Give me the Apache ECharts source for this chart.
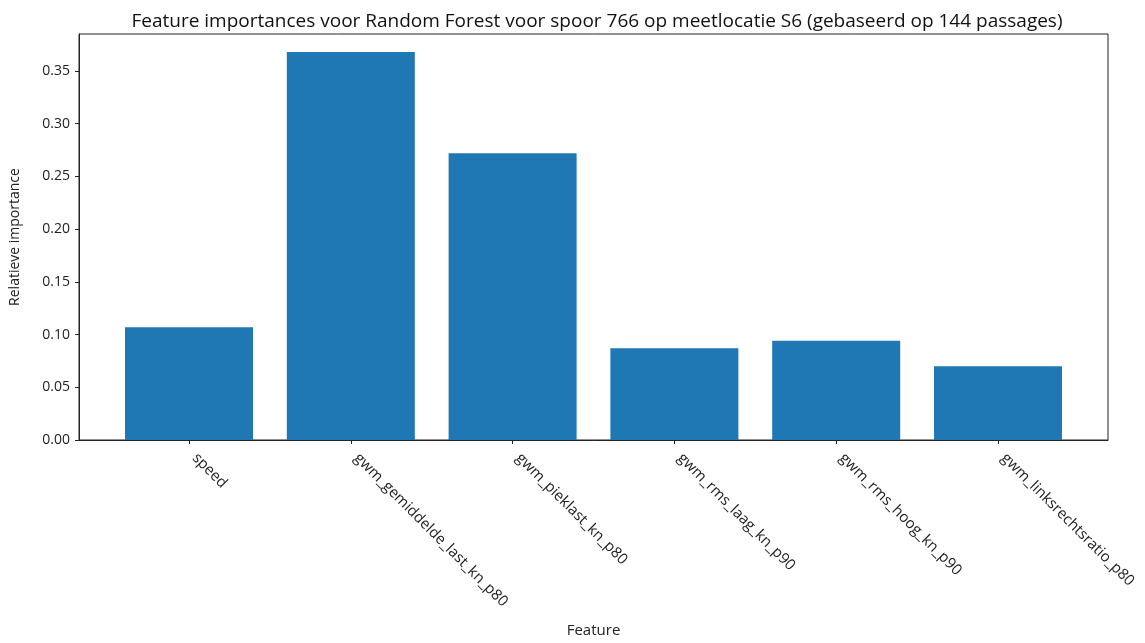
<!DOCTYPE html>
<html><head><meta charset="utf-8">
<script src="https://cdn.jsdelivr.net/npm/echarts@6/dist/echarts.min.js"></script>
<style>html,body{margin:0;padding:0;background:#fff}#c{width:1145px;height:643px}</style>
</head><body><div id="c"></div>
<script>
const categories = ["speed", "gwm_gemiddelde_last_kn_p80", "gwm_pieklast_kn_p80", "gwm_rms_laag_kn_p90", "gwm_rms_hoog_kn_p90", "gwm_linksrechtsratio_p80"];
const importances = [0.107, 0.368, 0.272, 0.087, 0.094, 0.070];
const yTicks = [0, 0.05, 0.10, 0.15, 0.20, 0.25, 0.30, 0.35];
const titleText = "Feature importances voor Random Forest voor spoor 766 op meetlocatie S6 (gebaseerd op 144 passages)";

const font = "Open Sans";
const chart = echarts.init(document.getElementById('c'), null, {renderer: 'canvas'});
chart.setOption({
  animation: false,
  backgroundColor: '#fff',
  title: {text: titleText, left: 592, top: 7, textAlign: 'center',
    textStyle: {fontFamily: font, fontSize: 19, fontWeight: 'normal', color: '#111'}},
  grid: {left: 78, top: 34, width: 1030, height: 406, show: true, borderColor: '#222', borderWidth: 1, backgroundColor: 'transparent'},
  xAxis: {
    type: 'value', min: -0.68, max: 5.68,
    name: 'Feature', nameLocation: 'middle', nameGap: 183,
    nameTextStyle: {fontFamily: font, fontSize: 15, color: '#222'},
    splitLine: {show: false},
    axisLine: {show: true, onZero: false, lineStyle: {color: '#222'}},
    axisTick: {show: true, customValues: categories.map((c, i) => i), length: 4, lineStyle: {color: '#222'}},
    axisLabel: {customValues: categories.map((c, i) => i), rotate: -45, margin: 10, padding: [0, 0, 0, 8],
      formatter: v => categories[Math.round(v)] || '',
      fontFamily: font, fontSize: 15, color: '#222'}
  },
  yAxis: {
    type: 'value', min: 0, max: 0.385, interval: 0.05,
    name: 'Relatieve importance', nameLocation: 'middle', nameGap: 57,
    nameTextStyle: {fontFamily: font, fontSize: 14, color: '#222'},
    splitLine: {show: false},
    axisLine: {show: true, onZero: false, lineStyle: {color: '#222'}},
    axisTick: {show: true, length: 4, lineStyle: {color: '#222'}},
    axisLabel: {fontFamily: font, fontSize: 14, color: '#222', margin: 9, showMaxLabel: false,
      formatter: v => v.toFixed(2)}
  },
  series: [{
    type: 'bar',
    barWidth: 128,
    itemStyle: {color: '#1f77b4'},
    data: importances.map((v, i) => [i, v])
  }]
});
</script></body></html>
